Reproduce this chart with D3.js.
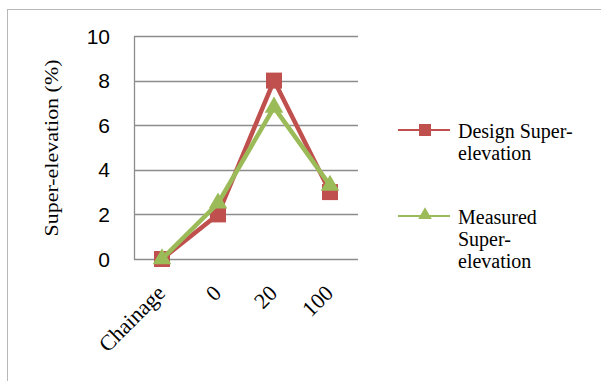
<!DOCTYPE html>
<html><head><meta charset="utf-8">
<script src="https://cdn.jsdelivr.net/npm/d3@7"></script>
<style>body{margin:0;background:#fff}svg{display:block}</style>
</head><body>
<script>
// Chart data
const categories = ["Chainage", "0", "20", "100"];
const designValues = [0, 2, 8, 3];
const measuredValues = [0, 2.5, 6.8, 3.3];
const yTicks = [0, 2, 4, 6, 8, 10];
const seriesNames = ["Design Super-elevation", "Measured Super-elevation"];
const colors = ["#c0504d", "#9bbb59"];

const W = 601, H = 381;
const svg = d3.select("body").append("svg").attr("width", W).attr("height", H);

// Outer chart border
svg.append("rect").attr("x", 7.5).attr("y", 9.5).attr("width", 600).attr("height", 380)
  .attr("fill", "none").attr("stroke", "#b8b8b8").attr("stroke-width", 1);

const plot = {left: 134, right: 358, top: 36, bottom: 259};
const x = d3.scaleBand().domain(categories).range([plot.left, plot.right]);
const y = d3.scaleLinear().domain([0, 10]).range([plot.bottom, plot.top]);

// Gridlines
svg.append("g").selectAll("line").data(yTicks).join("line")
  .attr("x1", plot.left).attr("x2", plot.right)
  .attr("y1", d => Math.round(y(d)) + 0.5).attr("y2", d => Math.round(y(d)) + 0.5)
  .attr("stroke", "#8c8c8c").attr("stroke-width", 1.3);

// Y axis line
svg.append("line").attr("x1", plot.left + 0.5).attr("x2", plot.left + 0.5)
  .attr("y1", plot.top).attr("y2", plot.bottom + 1)
  .attr("stroke", "#8c8c8c").attr("stroke-width", 1.3);

// Y tick labels
svg.append("g").selectAll("text").data(yTicks).join("text")
  .attr("x", 110).attr("y", d => y(d)).attr("dy", "0.36em")
  .attr("text-anchor", "end")
  .attr("font-family", "Liberation Sans, Arial, sans-serif").attr("font-size", 21)
  .attr("fill", "#000").text(d => d);

// Y axis title
svg.append("text")
  .attr("transform", `translate(58,148) rotate(-90)`)
  .attr("text-anchor", "middle")
  .attr("font-family", "Liberation Serif, Times New Roman, serif").attr("font-size", 19.5)
  .attr("textLength", 177).attr("lengthAdjust", "spacingAndGlyphs")
  .attr("fill", "#000").text("Super-elevation (%)");

// X tick labels, rotated
svg.append("g").selectAll("text").data(categories).join("text")
  .attr("transform", d => `translate(${x(d) + x.bandwidth() / 2 - 1},${plot.bottom + 30}) rotate(-45)`)
  .attr("text-anchor", "end").attr("dy", "0.35em")
  .attr("font-family", "Liberation Serif, Times New Roman, serif").attr("font-size", 22)
  .attr("fill", "#000").text(d => d);

const cx = d => x(d) + x.bandwidth() / 2;
const line = d3.line().x((d, i) => cx(categories[i])).y(d => y(d));

// Design series
svg.append("path").datum(designValues).attr("d", line)
  .attr("fill", "none").attr("stroke", colors[0]).attr("stroke-width", 4.5).attr("stroke-linejoin", "round");
svg.append("g").selectAll("rect").data(designValues).join("rect")
  .attr("x", (d, i) => cx(categories[i]) - 8).attr("y", d => y(d) - 8)
  .attr("width", 16).attr("height", 16).attr("fill", colors[0]);

// Measured series
const tri = d3.symbol().type(d3.symbolTriangle).size(150);
svg.append("path").datum(measuredValues).attr("d", line)
  .attr("fill", "none").attr("stroke", colors[1]).attr("stroke-width", 4.5).attr("stroke-linejoin", "round");
svg.append("g").selectAll("path").data(measuredValues).join("path")
  .attr("d", tri)
  .attr("transform", (d, i) => `translate(${cx(categories[i])},${y(d)})`)
  .attr("fill", colors[1]);

// Legend
const legend = [
  {y: 130, lines: ["Design Super-", "elevation"], marker: "square"},
  {y: 216, lines: ["Measured", "Super-", "elevation"], marker: "triangle"}
];
legend.forEach((l, k) => {
  const g = svg.append("g");
  g.append("line").attr("x1", 398).attr("x2", 450).attr("y1", l.y).attr("y2", l.y)
    .attr("stroke", colors[k]).attr("stroke-width", 2);
  if (l.marker === "square") {
    g.append("rect").attr("x", 419).attr("y", l.y - 6).attr("width", 12).attr("height", 12).attr("fill", colors[k]);
  } else {
    g.append("path").attr("d", d3.symbol().type(d3.symbolTriangle).size(80))
      .attr("transform", `translate(425,${l.y - 1})`).attr("fill", colors[k]);
  }
  const t = g.append("text").attr("font-family", "Liberation Serif, Times New Roman, serif")
    .attr("font-size", 20).attr("fill", "#000");
  l.lines.forEach((s, j) => {
    t.append("tspan").attr("x", 458).attr("y", l.y + 8 + j * 22).text(s);
  });
});
</script>
</body></html>
